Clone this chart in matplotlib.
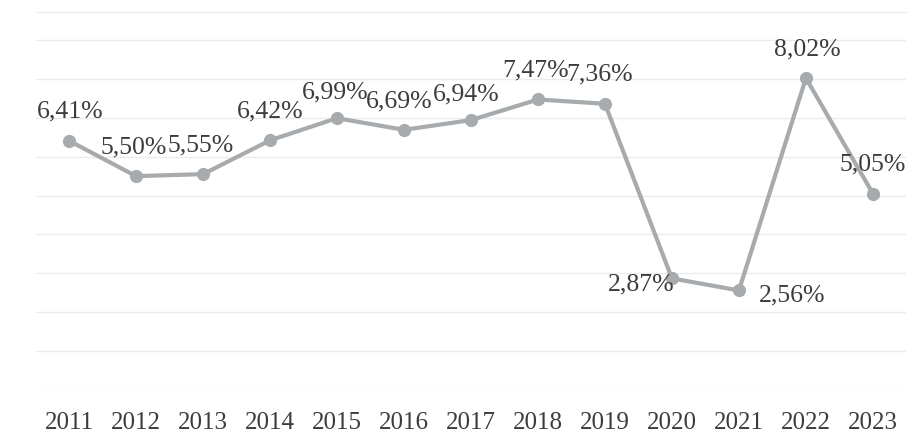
import matplotlib
matplotlib.use("Agg")
import matplotlib.pyplot as plt

# dados
anos = ['2011', '2012', '2013', '2014', '2015', '2016', '2017',
        '2018', '2019', '2020', '2021', '2022', '2023']
valores = [6.41, 5.50, 5.55, 6.42, 6.99, 6.69, 6.94,
           7.47, 7.36, 2.87, 2.56, 8.02, 5.05]
rotulos = ['6,41%', '5,50%', '5,55%', '6,42%', '6,99%', '6,69%', '6,94%',
           '7,47%', '7,36%', '2,87%', '2,56%', '8,02%', '5,05%']

# deslocamento da linha de base dos rótulos (pixels, y para cima)
desloc = [(1, 23), (-2, 23), (-2, 23), (0, 23), (-2, 20), (-5, 22), (-5, 20),
          (-2, 23), (-5, 23), (-31, -12), (53, -11), (1, 23), (0, 23)]

COR_LINHA = '#A7ABAD'
COR_TEXTO = '#3C3C3C'
COR_GRADE = '#EBEBEB'

plt.rcParams['font.family'] = ['Liberation Serif', 'DejaVu Serif']

fig = plt.figure(figsize=(9.23, 4.44), dpi=100)
ax = fig.add_axes([0.0385, 0.1216, 0.9435, 0.8514])

x = list(range(len(anos)))
ax.plot(x, valores, color=COR_LINHA, linewidth=3.0, marker='o',
        markersize=8.5, markerfacecolor=COR_LINHA, markeredgecolor=COR_LINHA,
        zorder=3)

# pixels -> points
px = 72.0 / fig.dpi
for xi, v, txt, (dx, dy) in zip(x, valores, rotulos, desloc):
    ax.annotate(txt, (xi, v), xytext=(dx * px, dy * px), textcoords='offset points',
                ha='center', va='baseline', fontsize=18.5, color=COR_TEXTO, zorder=4)

ax.set_xlim(-0.5, len(anos) - 0.5)
ax.set_ylim(0, 9.72)
ax.set_yticks(range(0, 10))
ax.yaxis.grid(True, color=COR_GRADE, linewidth=1.0)
ax.set_axisbelow(True)
ax.tick_params(axis='y', left=False, labelleft=False)
ax.tick_params(axis='x', bottom=False, labelsize=18, colors=COR_TEXTO, pad=12)
ax.set_xticks(x)
ax.set_xticklabels(anos)

for lado in ['left', 'right', 'bottom']:
    ax.spines[lado].set_visible(False)
ax.spines['top'].set_color(COR_GRADE)
ax.spines['top'].set_linewidth(1.0)

fig.savefig('out.png', dpi=100, facecolor='white')
